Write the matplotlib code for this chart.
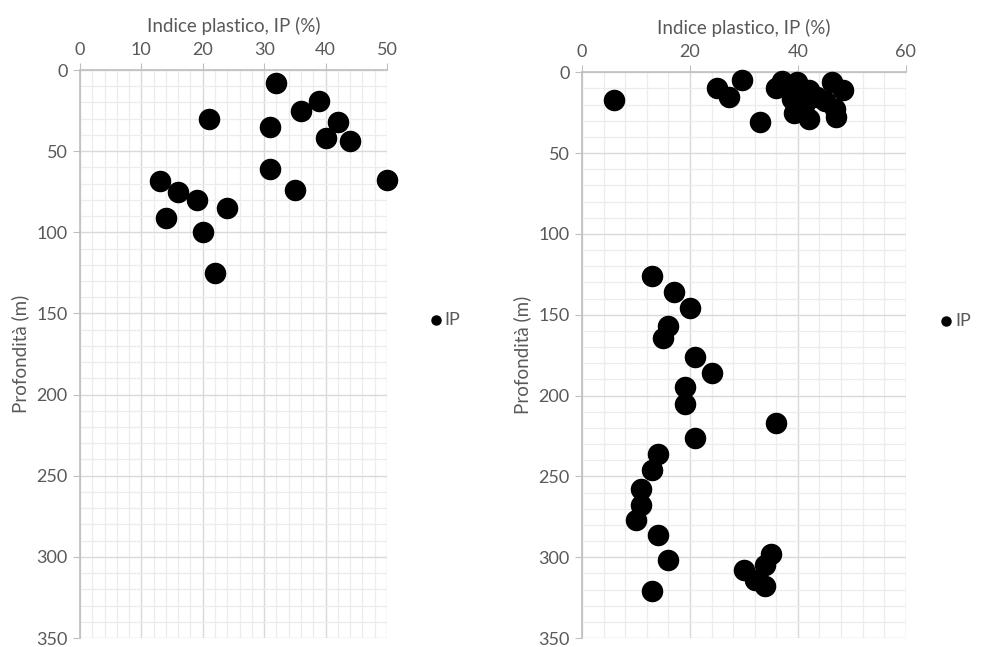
import matplotlib
matplotlib.use("Agg")
import matplotlib.pyplot as plt
from matplotlib.ticker import MultipleLocator

plt.rcParams['font.family'] = ['Lato', 'DejaVu Sans']

# left profile
ip_a = [32, 39, 36, 21, 42, 31, 40, 44, 31, 50, 13, 16, 35, 19, 24, 14, 20, 22]
dep_a = [8, 19, 25.5, 30, 32, 35, 42, 44, 61, 67.5, 68.5, 75, 74, 80, 85, 91, 100, 125]

# right profile
ip_b = [6, 25, 27.3, 29.7, 33, 37, 36, 39.8, 42, 46.4, 48.3, 39, 41.3, 43.5, 45,
        46.9, 39.2, 42, 47, 41,
        13, 17, 20, 16, 15, 21, 24, 19, 19, 36, 21, 14, 13, 11, 11, 10, 14, 16, 13,
        35, 34, 30, 32, 34]
dep_b = [17, 10, 15.5, 5, 31, 5.5, 10, 6, 11, 6, 11, 16.5, 19, 15.5, 18,
         22.5, 25.5, 29, 27.5, 22,
         126, 136, 146, 157, 164.5, 176, 186, 195, 205.5, 217, 226, 236, 246, 258, 267.5, 277, 286, 302, 321,
         298, 305, 308, 314, 318]

fig = plt.figure(figsize=(9.81, 6.47), dpi=100)
ax1 = fig.add_axes([0.0815, 0.0139, 0.313, 0.8779])
ax2 = fig.add_axes([0.5933, 0.0139, 0.330, 0.8745])

grey = '#595959'


def style(ax, xmax, xmaj, xmin_step):
    ax.set_xlim(0, xmax)
    ax.set_ylim(350, 0)
    ax.xaxis.set_major_locator(MultipleLocator(xmaj))
    ax.xaxis.set_minor_locator(MultipleLocator(xmin_step))
    ax.yaxis.set_major_locator(MultipleLocator(50))
    ax.yaxis.set_minor_locator(MultipleLocator(10))
    ax.xaxis.tick_top()
    ax.xaxis.set_label_position('top')
    ax.grid(which='major', color='#d9d9d9', lw=1.0)
    ax.grid(which='minor', color='#ececec', lw=0.9)
    ax.set_axisbelow(True)
    for s in ['right', 'bottom']:
        ax.spines[s].set_visible(False)
    for s in ['left', 'top']:
        ax.spines[s].set_color('#bfbfbf')
        ax.spines[s].set_linewidth(1.2)
    ax.tick_params(which='major', length=5, color='#bfbfbf', labelcolor=grey,
                   labelsize=13, pad=4)
    ax.tick_params(which='minor', length=0)
    ax.set_xlabel('Indice plastico, IP (%)', color=grey, fontsize=13.5, labelpad=7)
    ax.set_ylabel('Profondità (m)', color=grey, fontsize=13.5, labelpad=5)


style(ax1, 50, 10, 2)
style(ax2, 60, 20, 4)

ax1.scatter(ip_a, dep_a, s=210, color='black', label='IP', zorder=3, clip_on=False)
ax2.scatter(ip_b, dep_b, s=210, color='black', label='IP', zorder=3, clip_on=False)

for ax, xa in [(ax1, 1.10), (ax2, 1.07)]:
    leg = ax.legend(loc='center left', bbox_to_anchor=(xa, 0.56), frameon=False,
                    fontsize=13, markerscale=0.45, handletextpad=0.0,
                    handlelength=1.0, borderpad=0)
    for t in leg.get_texts():
        t.set_color(grey)

fig.savefig('out.png', dpi=100)
